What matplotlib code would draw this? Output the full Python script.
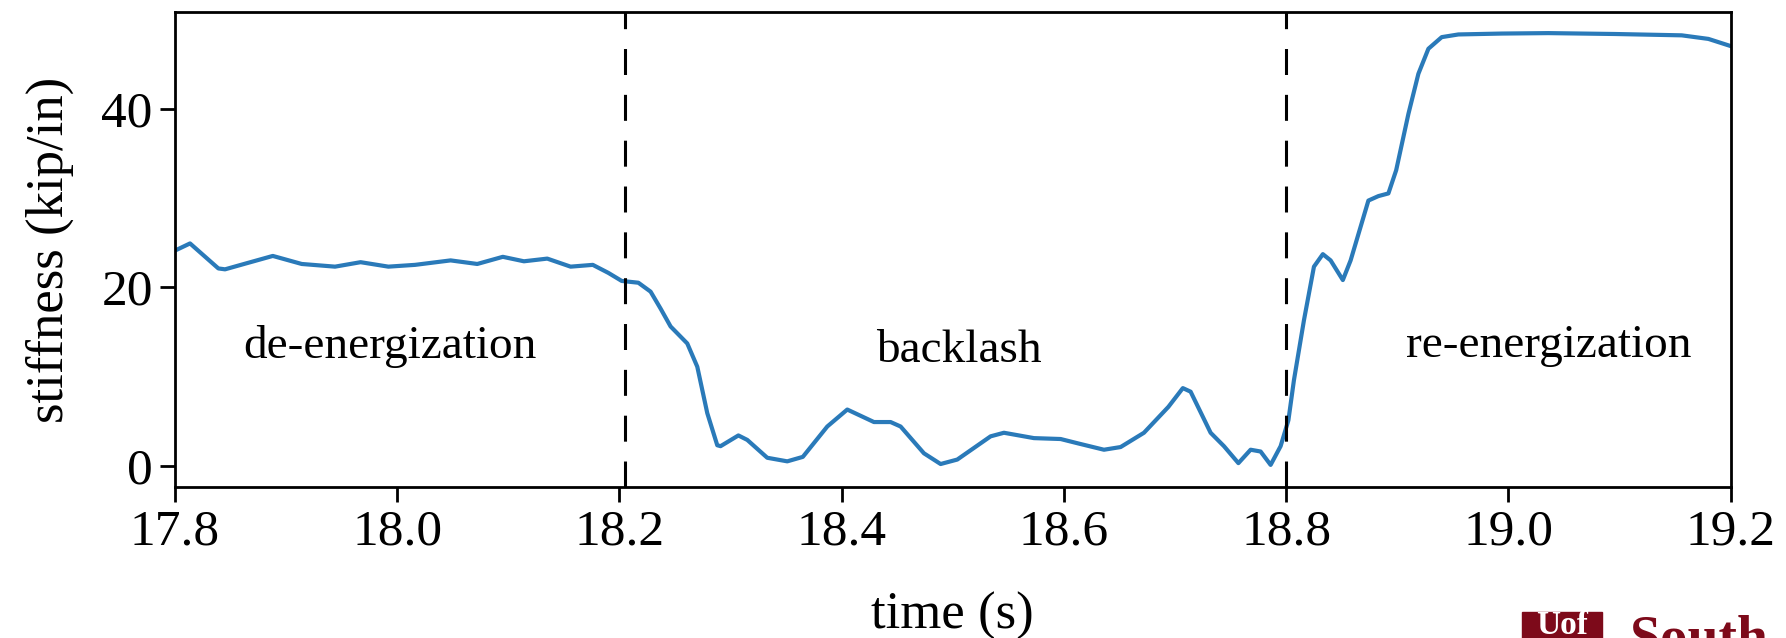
import matplotlib
matplotlib.use("Agg")
import matplotlib.pyplot as plt
from matplotlib.patches import Rectangle

plt.rcParams['font.family'] = ['Liberation Serif', 'DejaVu Serif']

# stiffness trace (kip/in) against time (s)
time_s = [17.800, 17.8135, 17.839, 17.845, 17.865, 17.888, 17.914, 17.944, 17.967, 17.992,
          18.016, 18.048, 18.072, 18.095, 18.114, 18.135, 18.156, 18.176, 18.190, 18.202,
          18.217, 18.228, 18.237, 18.246, 18.261, 18.270, 18.279, 18.288, 18.291, 18.307,
          18.315, 18.333, 18.351, 18.365, 18.387, 18.405, 18.429, 18.444, 18.453, 18.474,
          18.489, 18.504, 18.534, 18.546, 18.573, 18.597, 18.613, 18.636, 18.651, 18.672,
          18.694, 18.707, 18.714, 18.732, 18.744, 18.757, 18.768, 18.777, 18.786, 18.795,
          18.802, 18.807, 18.816, 18.825, 18.833, 18.840, 18.851, 18.858, 18.874, 18.883,
          18.892, 18.899, 18.910, 18.919, 18.928, 18.940, 18.955, 18.994, 19.036, 19.096,
          19.156, 19.180, 19.200]
stiffness = [24.1, 24.9, 22.1, 22.0, 22.7, 23.5, 22.6, 22.3, 22.8, 22.3,
             22.5, 23.0, 22.6, 23.4, 22.9, 23.2, 22.3, 22.5, 21.6, 20.7,
             20.5, 19.5, 17.6, 15.6, 13.7, 11.1, 5.9, 2.3, 2.2, 3.4,
             2.9, 0.9, 0.5, 1.0, 4.4, 6.3, 4.9, 4.9, 4.4, 1.4,
             0.2, 0.7, 3.3, 3.7, 3.1, 3.0, 2.5, 1.8, 2.1, 3.7,
             6.6, 8.7, 8.3, 3.7, 2.2, 0.3, 1.8, 1.6, 0.1, 2.2,
             5.1, 9.6, 16.3, 22.3, 23.7, 23.0, 20.8, 23.0, 29.7, 30.2,
             30.5, 33.1, 39.4, 43.9, 46.7, 48.0, 48.3, 48.4, 48.45, 48.35,
             48.2, 47.8, 47.0]

phase_bounds = [18.205, 18.8]
phase_names = ['de-energization', 'backlash', 're-energization']
phase_label_t = [17.993, 18.505, 19.036]
phase_label_y = [13.4, 12.9, 13.4]
xticks = [17.8, 18.0, 18.2, 18.4, 18.6, 18.8, 19.0, 19.2]
yticks = [0, 20, 40]

fig = plt.figure(figsize=(17.86, 6.38), dpi=100)
ax = fig.add_axes([0.098, 0.237, 0.871, 0.744])

ax.plot(time_s, stiffness, color='#2a7ab9', lw=3.0, solid_joinstyle='round')
for tb in phase_bounds:
    ax.axvline(tb, color='black', lw=2.2, dashes=(8.5, 6.5))
for name, tx, ty in zip(phase_names, phase_label_t, phase_label_y):
    ax.text(tx, ty, name, fontsize=34, ha='center', va='center')

ax.set_xlim(17.8, 19.2)
ax.set_ylim(-2.35, 50.8)
ax.set_xticks(xticks)
ax.set_xticklabels([f'{x:.1f}' for x in xticks])
ax.set_yticks(yticks)
ax.tick_params(labelsize=37, length=11, width=2, pad=5)
for sp in ax.spines.values():
    sp.set_linewidth(2)
ax.set_xlabel('time (s)', fontsize=38, labelpad=26)
ax.set_ylabel('stiffness (kip/in)', fontsize=38, labelpad=20)

# logo fragment in the lower right corner
fig.patches.append(Rectangle((0.852, 0.0), 0.045, 0.04, transform=fig.transFigure,
                             color='#7d0a1a', zorder=5))
fig.text(0.8745, -0.004, 'Uof', color='white', fontsize=24, fontweight='bold',
         ha='center', va='bottom', zorder=6)
fig.text(0.912, -0.045, 'South', color='#7d0a1a', fontsize=40, fontweight='bold',
         ha='left', va='bottom', zorder=6)

fig.savefig('out.png', dpi=100)
